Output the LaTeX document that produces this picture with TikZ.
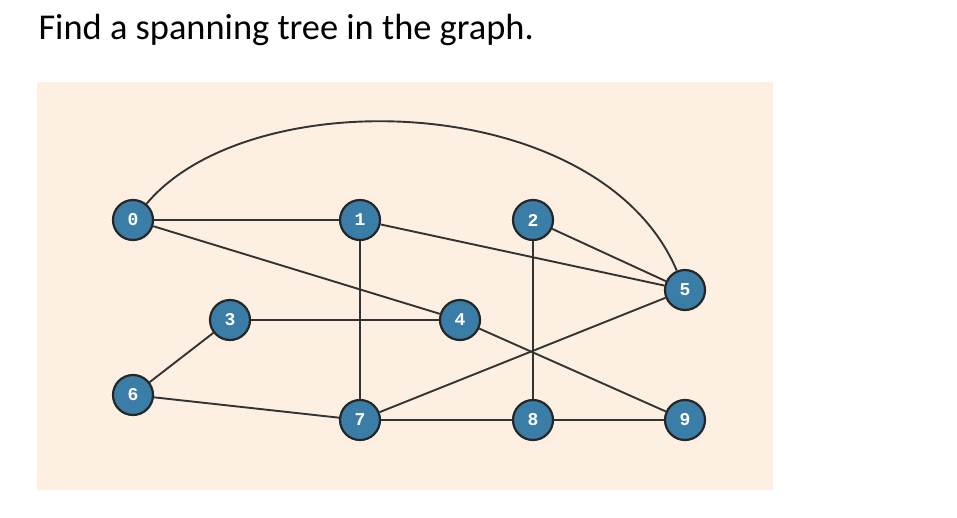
\documentclass[tikz,border=0pt]{standalone}
\usepackage{fontspec}
\setmainfont{Carlito}
\newfontfamily\numfont{Liberation Mono}
\definecolor{vfill}{RGB}{58,125,166}
\definecolor{bgc}{RGB}{253,240,227}
\begin{document}
\begin{tikzpicture}[x=1pt,y=-1pt,
  vtx/.style={circle,draw=black!85,line width=2.2pt,fill=vfill,minimum size=40pt,inner sep=0pt,text=white,font=\numfont\bfseries\fontsize{18}{18}\selectfont},
  edge/.style={draw=black!80,line width=1.9pt}]
\useasboundingbox (0,0) rectangle (957,517);
\fill[white] (0,0) rectangle (957,517);
\fill[bgc] (37,82) rectangle (773,490);
\node[anchor=west,font=\fontsize{36.4}{40}\selectfont] (t) at (35,30) {Find a spanning tree in the graph.};
\node[vtx] (n0) at (133,220) {0};
\node[vtx] (n1) at (360,220) {1};
\node[vtx] (n2) at (533,220) {2};
\node[vtx] (n3) at (230,320) {3};
\node[vtx] (n4) at (460,320) {4};
\node[vtx] (n5) at (685,290) {5};
\node[vtx] (n6) at (133,395) {6};
\node[vtx] (n7) at (360,420) {7};
\node[vtx] (n8) at (533,420) {8};
\node[vtx] (n9) at (685,420) {9};
\path[edge] (n0) -- (n1);
\path[edge] (n0) -- (n4);
\path[edge] (n0) .. controls (250,80) and (600,90) .. (n5);
\path[edge] (n1) -- (n5);
\path[edge] (n1) -- (n7);
\path[edge] (n2) -- (n5);
\path[edge] (n2) -- (n8);
\path[edge] (n3) -- (n4);
\path[edge] (n3) -- (n6);
\path[edge] (n6) -- (n7);
\path[edge] (n7) -- (n5);
\path[edge] (n7) -- (n8);
\path[edge] (n8) -- (n9);
\path[edge] (n4) -- (n9);
\end{tikzpicture}
\end{document}
